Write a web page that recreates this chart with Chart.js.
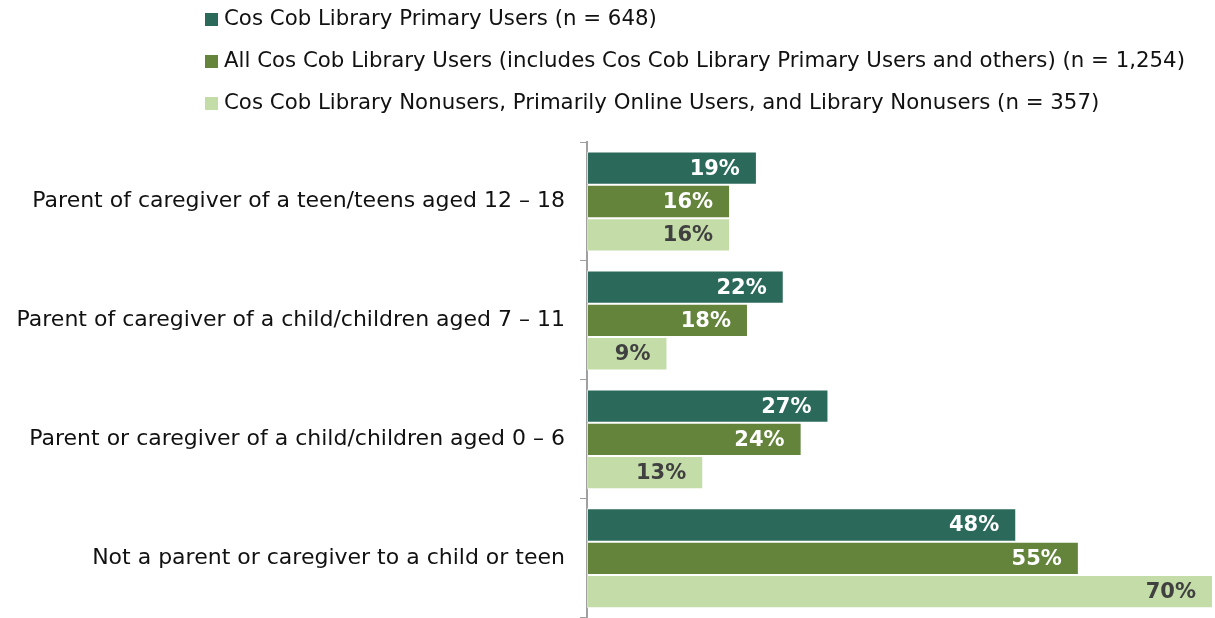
<!DOCTYPE html>
<html><head><meta charset="utf-8">
<script src="https://cdn.jsdelivr.net/npm/chart.js@4/dist/chart.umd.min.js"></script>
<style>
html,body{margin:0;padding:0;background:#fff;}
#wrap{position:relative;width:1215px;height:618px;overflow:hidden;}
#legend{position:absolute;left:205px;top:0;font-family:"DejaVu Sans",sans-serif;font-size:21.3px;color:#111;}
.li{position:absolute;left:0;white-space:nowrap;height:24px;line-height:24px;}
.sw{display:inline-block;width:13px;height:13px;margin-right:6px;vertical-align:-1px;}
canvas{position:absolute;left:0;top:0;}
</style></head>
<body><div id="wrap"><canvas id="c" width="1215" height="646"></canvas><div id="legend"></div></div>
<script>
const categories = [
  "Parent of caregiver of a teen/teens aged 12 \u2013 18",
  "Parent of caregiver of a child/children aged 7 \u2013 11",
  "Parent or caregiver of a child/children aged 0 \u2013 6",
  "Not a parent or caregiver to a child or teen"
];
const seriesNames = [
  "Cos Cob Library Primary Users (n = 648)",
  "All Cos Cob Library Users (includes Cos Cob Library Primary Users and others) (n = 1,254)",
  "Cos Cob Library Nonusers, Primarily Online Users, and Library Nonusers (n = 357)"
];
const primaryUsers = [19, 22, 27, 48];
const allUsers = [16, 18, 24, 55];
const nonUsers = [16, 9, 13, 70];
const colors = ["#2B6A5A", "#63843A", "#C4DCA8"];
const labelColors = ["#ffffff", "#ffffff", "#404040"];

const leg = document.getElementById('legend');
seriesNames.forEach((n,i)=>{
  const d=document.createElement('div');d.className='li';d.style.top=(6+i*42)+'px';
  d.innerHTML='<span class="sw" style="background:'+colors[i]+'"></span>'+n;
  leg.appendChild(d);
});

const valueLabels = {
  id:'valueLabels',
  afterDatasetsDraw(chart){
    const ctx=chart.ctx;
    ctx.save();
    ctx.font='bold 21px "DejaVu Sans", sans-serif';
    ctx.textAlign='right';ctx.textBaseline='middle';
    chart.data.datasets.forEach((ds,di)=>{
      chart.getDatasetMeta(di).data.forEach((bar,i)=>{
        ctx.fillStyle=labelColors[di];
        ctx.fillText(ds.data[i]+'%', bar.x-17, bar.y+1);
      });
    });
    ctx.restore();
  }
};

const seriesData=[primaryUsers,allUsers,nonUsers];
new Chart(document.getElementById('c'),{
  type:'bar',
  data:{labels:categories,datasets:seriesData.map((d,i)=>({
    label:seriesNames[i],data:d,backgroundColor:colors[i],
    borderColor:'rgba(255,255,255,0.6)',borderWidth:1,borderSkipped:false,
    categoryPercentage:0.84,barPercentage:1
  }))},
  options:{
    indexAxis:'y',responsive:false,animation:false,
    layout:{padding:{top:142,right:2,bottom:0,left:0}},
    plugins:{legend:{display:false},tooltip:{enabled:false}},
    scales:{
      x:{min:0,max:70,display:false},
      y:{
        afterFit(s){s.width=587;},
        grid:{display:true,drawOnChartArea:false,offset:true,tickLength:7,color:'#a0a0a0',lineWidth:1},
        border:{display:true,color:'#a0a0a0',width:2},
        ticks:{color:'#111',font:{family:'"DejaVu Sans", sans-serif',size:22},padding:15}
      }
    }
  },
  plugins:[valueLabels]
});
</script></body></html>
